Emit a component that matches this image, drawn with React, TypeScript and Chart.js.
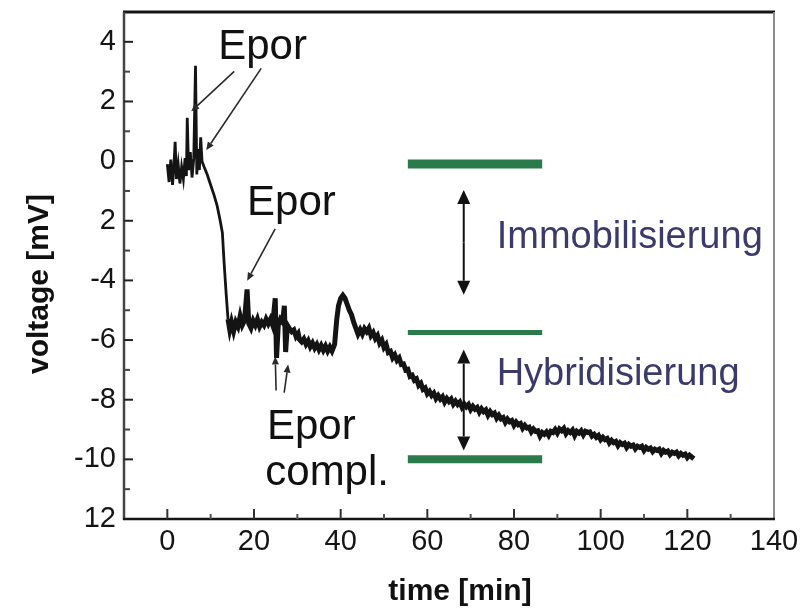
import React, { useEffect, useRef } from "react";
import { Chart, registerables } from "chart.js";

Chart.register(...registerables);

// ---- data ----
const timeMin = [
  0, 0.4, 0.8, 1.2, 1.5, 1.8, 2.1, 2.5, 2.9, 3.3, 3.7, 4.1, 4.4, 4.6, 4.9, 5.3, 5.7, 6.1, 6.5, 6.8,
  7.1, 7.4, 7.7, 8.0, 8.5, 9.2, 10.0, 10.8, 11.5, 12.2, 12.7, 13.1, 13.6, 14.0, 14.4, 14.8, 15.3,
  15.8, 16.3, 16.8, 17.3, 17.8, 18.4, 18.8, 19.3, 19.8, 20.3, 20.8, 21.3, 21.8, 22.3, 22.8, 23.3,
  23.8, 24.3, 24.9, 25.2, 25.6, 26.1, 26.6, 27.0, 27.3, 27.7, 28.2, 28.7, 29.2, 29.7, 30.2, 30.5,
  31, 31.5, 32, 32.5, 33, 33.5, 34, 34.5, 35, 35.5, 36, 36.5, 37, 37.5, 38, 38.6, 39.1, 39.5, 40.0,
  40.5, 41.0, 41.5, 42.0, 42.5, 43.0, 43.5, 44.0, 44.5,
  45, 45.5, 46, 46.5, 47, 47.5, 48, 48.5, 49, 49.5, 50, 50.5, 51, 51.5, 52, 52.5, 53, 53.5, 54, 54.5,
  55, 55.5, 56, 56.5, 57, 57.5, 58, 58.5, 59, 59.5, 60, 60.5, 61, 61.5, 62, 62.5, 63, 63.5, 64, 64.5,
  65, 65.5, 66, 66.5, 67, 67.5, 68, 68.5, 69, 69.5, 70, 70.5, 71, 71.5, 72, 72.5, 73, 73.5, 74, 74.5,
  75, 75.5, 76, 76.5, 77, 77.5, 78, 78.5, 79, 79.5, 80, 80.5, 81, 81.5, 82, 82.5, 83, 83.5, 84, 84.5,
  85, 85.5, 86, 86.5, 87, 87.5, 88, 88.5, 89, 89.5, 90, 90.5, 91, 91.5, 92, 92.5, 93, 93.5, 94, 94.5,
  95, 95.5, 96, 96.5, 97, 97.5, 98, 98.5, 99, 99.5, 100, 100.5, 101, 101.5, 102, 102.5, 103, 103.5,
  104, 104.5, 105, 105.5, 106, 106.5, 107, 107.5, 108, 108.5, 109, 109.5, 110, 110.5, 111, 111.5,
  112, 112.5, 113, 113.5, 114, 114.5, 115, 115.5, 116, 116.5, 117, 117.5, 118, 118.5, 119, 119.5,
  120, 120.5, 121, 121.5,
];
const voltageMv = [
  -0.1, -0.7, 0.05, -0.8, -0.2, 0.65, -0.6, -0.1, -0.75, -0.2, -0.6, 0.1, -0.5, 1.45, -0.3, 0.3,
  -0.55, 0.1, 3.2, -0.45, 0.4, -0.3, 0.8, 0.0, -0.2, -0.45, -0.8, -1.15, -1.5, -2.0, -2.4, -3.4,
  -4.5, -5.3, -5.65, -5.4, -5.7, -5.4, -5.55, -5.2, -5.5, -5.35, -4.3, -5.45, -5.6, -5.35, -5.5,
  -5.3, -5.55, -5.4, -5.5, -5.3, -5.45, -5.3, -5.5, -4.6, -6.6, -5.5, -5.3, -5.4, -4.85, -6.4,
  -5.5, -5.62, -5.72, -5.66, -5.88, -5.78, -5.98, -6.06, -5.96, -6.14, -6.02, -6.22, -6.1, -6.27,
  -6.15, -6.32, -6.18, -6.34, -6.2, -6.37, -6.23, -6.37, -6.15, -5.3, -4.85, -4.6, -4.5, -4.6,
  -4.8, -5.0, -5.15, -5.4, -5.6, -5.8, -5.65,
  -5.8, -5.62, -5.72, -5.6, -5.85, -5.75, -5.95, -5.85, -6.1, -6.0, -6.25, -6.15, -6.42, -6.38,
  -6.6, -6.5, -6.68, -6.6, -6.82, -6.8, -7.0, -6.98, -7.22, -7.18, -7.35, -7.3, -7.52, -7.45,
  -7.65, -7.6, -7.8, -7.72, -7.86, -7.78, -7.96, -7.86, -7.98, -7.9, -8.08, -7.96, -8.06, -7.98,
  -8.15, -8.05, -8.16, -8.08, -8.25, -8.14, -8.24, -8.16, -8.33, -8.22, -8.32, -8.26, -8.42,
  -8.3, -8.4, -8.34, -8.52, -8.4, -8.5, -8.45, -8.62, -8.52, -8.64, -8.6, -8.76, -8.65, -8.74,
  -8.7, -8.86, -8.75, -8.84, -8.8, -8.96, -8.86, -8.95, -8.92, -9.08, -8.98, -9.06, -9.04,
  -9.22, -9.1, -9.16, -9.08, -9.2, -9.06, -9.1, -9.0, -9.12, -8.98, -9.04, -8.96, -9.14, -9.04,
  -9.1, -9.02, -9.2, -9.06, -9.12, -9.04, -9.18, -9.06, -9.1, -9.08, -9.22, -9.16, -9.26, -9.2,
  -9.34, -9.26, -9.34, -9.3, -9.45, -9.36, -9.44, -9.4, -9.54, -9.44, -9.5, -9.46, -9.6, -9.5,
  -9.56, -9.52, -9.65, -9.56, -9.6, -9.56, -9.7, -9.6, -9.66, -9.62, -9.74, -9.66, -9.7, -9.66,
  -9.8, -9.7, -9.76, -9.72, -9.84, -9.76, -9.8, -9.76, -9.88, -9.8, -9.86, -9.82, -9.94, -9.86,
  -9.92, -9.98,
];

const xTickValues = [0, 20, 40, 60, 80, 100, 120, 140];
const xTickLabels = ["0", "20", "40", "60", "80", "100", "120", "140"];
const xMinorValues = [10, 30, 50, 70, 90, 110, 130];
const yTickValues = [-12, -10, -8, -6, -4, -2, 0, 2, 4];
const yTickLabels = ["12", "-10", "-8", "-6", "-4", "2", "0", "2", "4"];
const yMinorValues = [-11, -9, -7, -5, -3, -1, 1, 3];

// stage levels (green bars) and their time span
const stageLevels = [-0.1, -5.75, -10.0];
const stageSpan = [55.5, 86.5];

// annotation texts
const labelTexts = ["Epor", "Epor", "Epor", "compl.", "Immobilisierung", "Hybridisierung"];
const labelTimes = [11.75, 18.4, 23.0, 22.6, 76.0, 76.0];
const labelVolts = [3.44, -1.8, -9.33, -10.87, -2.9, -7.5];

// thin pointer arrows: [t0, v0, t1, v1]
const pointerArrows = [
  [15.44, 3.01, 5.53, 1.67],
  [21.66, 3.11, 8.99, 0.37],
  [24.88, -2.27, 18.43, -4.01],
  [25.1, -7.69, 24.9, -6.55],
  [26.96, -7.76, 27.88, -6.82],
];
// double arrows: [t, vTop, vBottom]
const doubleArrows = [
  [68.4, -0.97, -4.48],
  [68.4, -6.32, -9.7],
];

const FONT = '"Liberation Sans", Arial, Helvetica, sans-serif';

function drawArrow(ctx: CanvasRenderingContext2D, x1: number, y1: number, x2: number, y2: number, head: number, half: number, lw: number, color: string) {
  const ang = Math.atan2(y2 - y1, x2 - x1);
  const bx = x2 - head * Math.cos(ang);
  const by = y2 - head * Math.sin(ang);
  ctx.strokeStyle = color;
  ctx.fillStyle = color;
  ctx.lineWidth = lw;
  ctx.beginPath();
  ctx.moveTo(x1, y1);
  ctx.lineTo(bx, by);
  ctx.stroke();
  ctx.beginPath();
  ctx.moveTo(x2, y2);
  ctx.lineTo(bx + half * Math.sin(ang), by - half * Math.cos(ang));
  ctx.lineTo(bx - half * Math.sin(ang), by + half * Math.cos(ang));
  ctx.closePath();
  ctx.fill();
}

const decorPlugin = {
  id: "decor",
  afterDraw(chart: any) {
    const { ctx, chartArea: a, scales } = chart;
    const xs = scales.x;
    const ys = scales.y;
    ctx.save();
    ctx.lineCap = "butt";
    const seg = (x1: number, y1: number, x2: number, y2: number, c: string, w: number) => {
      ctx.strokeStyle = c;
      ctx.lineWidth = w;
      ctx.beginPath();
      ctx.moveTo(x1, y1);
      ctx.lineTo(x2, y2);
      ctx.stroke();
    };
    // frame
    seg(a.left - 1, a.top, a.right + 1, a.top, "#161616", 3);
    seg(a.right, a.top, a.right, a.bottom, "#8a8a8a", 2);
    seg(a.left, a.top, a.left, a.bottom + 1, "#444444", 2.5);
    seg(a.left - 1, a.bottom, a.right + 1, a.bottom, "#161616", 2.5);
    // inward ticks
    xTickValues.forEach((v) => {
      const px = xs.getPixelForValue(v);
      if (px < a.right - 2) seg(px, a.bottom, px, a.bottom - 10, "#333", 2);
    });
    xMinorValues.forEach((v) => {
      const px = xs.getPixelForValue(v);
      seg(px, a.bottom, px, a.bottom - 5, "#555", 2);
    });
    yTickValues.forEach((v) => {
      const py = ys.getPixelForValue(v);
      if (py > a.top + 2 && py < a.bottom - 2) seg(a.left, py, a.left + 9, py, "#222", 2);
    });
    yMinorValues.forEach((v) => {
      const py = ys.getPixelForValue(v);
      seg(a.left, py, a.left + 6, py, "#444", 2);
    });
    // axis titles
    ctx.fillStyle = "#111";
    ctx.font = `bold 30px ${FONT}`;
    ctx.textAlign = "center";
    ctx.textBaseline = "middle";
    ctx.fillText("time [min]", 460, 592);
    ctx.save();
    ctx.translate(40, 284);
    ctx.rotate(-Math.PI / 2);
    ctx.fillText("voltage [mV]", 0, 0);
    ctx.restore();
    // pointer arrows
    pointerArrows.forEach(([t0, v0, t1, v1]) => {
      drawArrow(ctx, xs.getPixelForValue(t0), ys.getPixelForValue(v0), xs.getPixelForValue(t1), ys.getPixelForValue(v1), 8, 3.5, 1.6, "#2a2a2a");
    });
    // double arrows
    doubleArrows.forEach(([t, vt, vb]) => {
      const px = xs.getPixelForValue(t);
      const pt = ys.getPixelForValue(vt);
      const pb = ys.getPixelForValue(vb);
      const mid = (pt + pb) / 2;
      drawArrow(ctx, px, mid, px, pt, 14, 6.5, 2, "#111");
      drawArrow(ctx, px, mid, px, pb, 14, 6.5, 2, "#111");
    });
    // texts
    ctx.textAlign = "left";
    ctx.textBaseline = "alphabetic";
    labelTexts.forEach((txt, i) => {
      const px = xs.getPixelForValue(labelTimes[i]);
      const py = ys.getPixelForValue(labelVolts[i]);
      if (i >= 4) {
        ctx.fillStyle = "#3b3a6b";
        ctx.font = `38px ${FONT}`;
      } else {
        ctx.fillStyle = "#111";
        ctx.font = `42px ${FONT}`;
      }
      ctx.fillText(txt, px, py);
    });
    ctx.restore();
  },
};

export default function App() {
  const ref = useRef<HTMLCanvasElement | null>(null);
  useEffect(() => {
    if (!ref.current) return;
    const curve = timeMin.map((t, i) => ({ x: t, y: voltageMv[i] }));
    const stageWidths = [9, 5, 8];
    const stageSets = stageLevels.map((lv, i) => ({
      data: [
        { x: stageSpan[0], y: lv },
        { x: stageSpan[1], y: lv },
      ],
      borderColor: "#2b7a4b",
      borderWidth: stageWidths[i],
      pointRadius: 0,
      borderCapStyle: "butt" as const,
    }));
    const chart = new Chart(ref.current, {
      type: "line",
      data: {
        datasets: [
          ...stageSets,
          {
            data: curve,
            borderColor: "#141414",
            borderWidth: 4,
            pointRadius: 0,
            tension: 0,
            borderJoinStyle: "miter" as const,
            segment: {
              borderWidth: (c: any) => (c.p0.parsed.x < 13.8 ? 2.8 : 5),
            },
          },
        ],
      },
      options: {
        responsive: false,
        animation: false,
        events: [],
        layout: { padding: { top: 12, right: 31, left: 0, bottom: 0 } },
        plugins: { legend: { display: false }, tooltip: { enabled: false } },
        scales: {
          x: {
            type: "linear",
            min: -10,
            max: 140,
            grid: { display: false, drawTicks: false },
            border: { display: false },
            afterBuildTicks: (s: any) => {
              s.ticks = xTickValues.map((v) => ({ value: v }));
            },
            afterFit: (s: any) => {
              s.height = 91;
              s.paddingLeft = 0;
              s.paddingRight = 0;
            },
            ticks: {
              autoSkip: false,
              maxRotation: 0,
              padding: 6,
              color: "#151515",
              font: { family: FONT, size: 29 },
              callback: (v: any) => xTickLabels[xTickValues.indexOf(Number(v))] ?? "",
            },
          },
          y: {
            type: "linear",
            min: -12,
            max: 5,
            grid: { display: false, drawTicks: false },
            border: { display: false },
            afterBuildTicks: (s: any) => {
              s.ticks = yTickValues.map((v) => ({ value: v }));
            },
            afterFit: (s: any) => {
              s.width = 124;
              s.paddingTop = 0;
              s.paddingBottom = 0;
            },
            ticks: {
              autoSkip: false,
              padding: 8,
              color: "#151515",
              font: { family: FONT, size: 29 },
              callback: (v: any) => yTickLabels[yTickValues.indexOf(Number(v))] ?? "",
            },
          },
        },
      },
      plugins: [decorPlugin],
    });
    return () => chart.destroy();
  }, []);
  return (
    <div style={{ position: "fixed", left: 0, top: 0, width: 805, height: 610, background: "#fff" }}>
      <canvas ref={ref} width={805} height={610} style={{ width: 805, height: 610, display: "block" }} />
    </div>
  );
}
